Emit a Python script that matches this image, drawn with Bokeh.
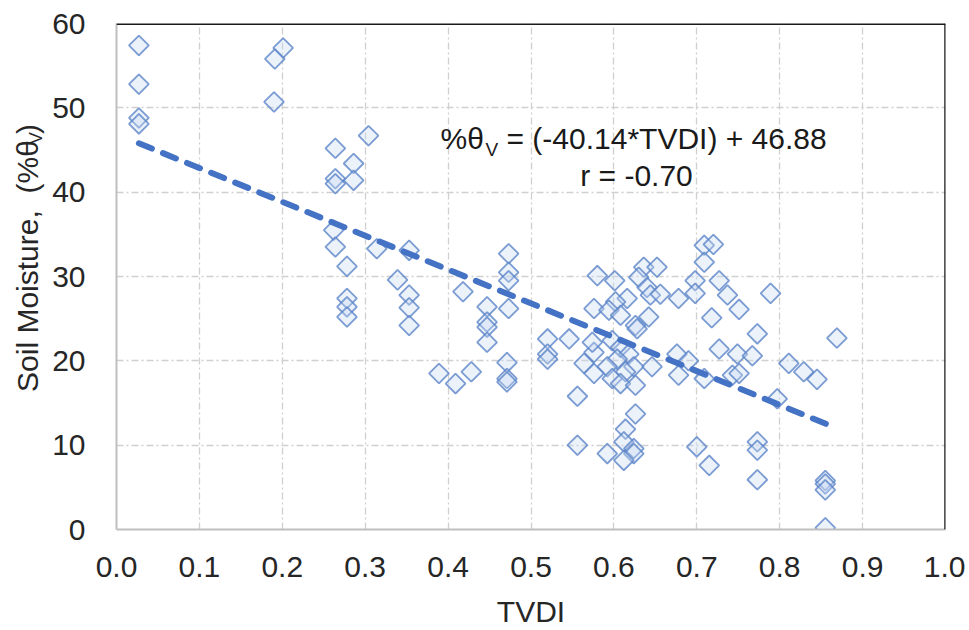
from bokeh.plotting import figure
from bokeh.models import Label, Span, Range1d, FixedTicker, ColumnDataSource
from bokeh.layouts import row
from bokeh.core.properties import value
from bokeh.embed import file_html
from bokeh.resources import INLINE
import numpy as np

# ---- data ----
tvdi = [0.027, 0.027, 0.027, 0.027, 0.201, 0.191, 0.190, 0.264, 0.304, 0.286,
        0.264, 0.264, 0.286, 0.262, 0.264, 0.314, 0.353, 0.278, 0.278, 0.278,
        0.278, 0.339, 0.353, 0.353, 0.353, 0.473, 0.473, 0.473, 0.473, 0.418,
        0.447, 0.447, 0.447, 0.447, 0.389, 0.409, 0.428, 0.471, 0.471, 0.471,
        0.520, 0.520, 0.520, 0.546, 0.556, 0.580, 0.601, 0.576, 0.564, 0.576,
        0.709, 0.720, 0.709, 0.636, 0.652, 0.630, 0.640, 0.644, 0.656, 0.616,
        0.602, 0.594, 0.608, 0.642, 0.626, 0.628, 0.678, 0.698, 0.698, 0.727,
        0.737, 0.751, 0.789, 0.718, 0.773, 0.869, 0.727, 0.749, 0.767, 0.811,
        0.829, 0.845, 0.676, 0.690, 0.678, 0.709, 0.743, 0.751, 0.797, 0.576,
        0.598, 0.608, 0.618, 0.604, 0.592, 0.624, 0.646, 0.614, 0.598, 0.608,
        0.626, 0.626, 0.614, 0.612, 0.556, 0.592, 0.624, 0.624, 0.612, 0.700,
        0.715, 0.773, 0.773, 0.773, 0.855, 0.855, 0.855, 0.855, 0.574]
moisture = [57.4, 52.8, 48.8, 48.1, 57.1, 55.8, 50.7, 45.2, 46.7, 43.4,
            41.6, 41.0, 41.4, 35.5, 33.5, 33.3, 33.1, 31.2, 27.4, 26.4,
            25.2, 29.6, 27.8, 26.3, 24.2, 32.7, 30.5, 29.5, 26.2, 28.2,
            26.4, 24.6, 24.0, 22.2, 18.5, 17.3, 18.7, 19.8, 17.9, 17.5,
            22.6, 20.8, 20.2, 22.6, 15.8, 30.1, 29.5, 26.2, 19.7, 18.5,
            33.7, 33.8, 31.7, 31.1, 31.1, 29.9, 28.7, 27.8, 27.9, 27.4,
            27.0, 26.0, 25.4, 25.2, 24.2, 23.8, 27.4, 29.5, 28.0, 29.5,
            27.8, 26.1, 28.0, 25.1, 23.2, 22.7, 21.4, 20.8, 20.6, 19.7,
            18.7, 17.8, 20.8, 20.0, 18.3, 17.9, 18.3, 18.5, 15.5, 21.0,
            22.4, 21.6, 20.8, 20.2, 19.3, 19.3, 19.3, 18.7, 17.9, 17.3,
            17.1, 13.7, 11.9, 10.4, 10.0, 9.0, 9.6, 9.0, 8.2, 9.8,
            7.6, 10.4, 9.4, 5.9, 5.8, 5.4, 4.7, 0.2, 22.2]

fit_slope = -40.14
fit_intercept = 46.88

x_ticks = [0.0, 0.1, 0.2, 0.3, 0.4, 0.5, 0.6, 0.7, 0.8, 0.9, 1.0]
x_tick_labels = ["0.0", "0.1", "0.2", "0.3", "0.4", "0.5", "0.6", "0.7", "0.8", "0.9", "1.0"]
y_ticks = [0, 10, 20, 30, 40, 50, 60]
y_tick_labels = ["0", "10", "20", "30", "40", "50", "60"]

x_title = "TVDI"
y_title_main = "Soil Moisture,\u00a0 (%\u03b8"
y_title_sub = "V"
y_title_end = ")"
eq_left = "%\u03b8"
eq_sub = "V"
eq_right = "= (-40.14*TVDI) + 46.88"
r_text = "r = -0.70"

FONT = "Liberation Sans"
TXT = "#262626"
H = 630
LEFT_W = 48
MAIN_W = 917

# frame geometry in page pixels (used to place texts)
FX0, FX1, FY0, FY1 = 116.0, 945.0, 529.0, 23.0


def dx(px):
    return (px - FX0) / (FX1 - FX0)


def dy(py):
    return (FY0 - py) / (FY0 - FY1) * 60.0


# ---- narrow panel holding the rotated y-axis title (with subscript) ----
left = figure(width=LEFT_W, height=H, x_range=Range1d(0, LEFT_W), y_range=Range1d(0, H),
              title=None, output_backend="svg", toolbar_location=None, min_border=0,
              x_axis_location=None, y_axis_location=None)
left.outline_line_color = None
left.grid.grid_line_color = None
left.background_fill_color = "white"
left.border_fill_color = "white"

# anchor positions (page px), tuned so the title runs from y=397 up to y=123
left.text(x=[27.0], y=[H - 302.0], text=[y_title_main], angle=np.pi / 2,
          text_align="center", text_baseline="middle", text_font=value(FONT),
          text_font_size="30px", text_color=TXT)
left.text(x=[35.5], y=[H - 143.0], text=[y_title_sub], angle=np.pi / 2,
          text_align="center", text_baseline="middle", text_font=value(FONT),
          text_font_size="18px", text_color=TXT)
left.text(x=[27.0], y=[H - 131.5], text=[y_title_end], angle=np.pi / 2,
          text_align="center", text_baseline="middle", text_font=value(FONT),
          text_font_size="30px", text_color=TXT)

# ---- main chart ----
p = figure(width=MAIN_W, height=H, x_range=Range1d(0, 1), y_range=Range1d(0, 60),
           title=None, output_backend="svg", toolbar_location=None,
           min_border_left=int(FX0) - LEFT_W, min_border_right=LEFT_W + MAIN_W - int(FX1),
           min_border_top=int(FY1), min_border_bottom=H - int(FY0))
p.outline_line_color = None
p.background_fill_color = "white"
p.border_fill_color = "white"

for ax in (p.xaxis, p.yaxis):
    ax.axis_line_color = "#bfbfbf"
    ax.axis_line_width = 2
    ax.major_tick_line_color = None
    ax.minor_tick_line_color = None
    ax.major_tick_out = 0
    ax.major_tick_in = 0
    ax.major_label_text_font = FONT
    ax.major_label_text_font_size = "30px"
    ax.major_label_text_color = TXT

p.xaxis.ticker = FixedTicker(ticks=x_ticks)
p.xaxis.major_label_overrides = {t: l for t, l in zip(x_ticks, x_tick_labels)}
p.yaxis.ticker = FixedTicker(ticks=y_ticks)
p.yaxis.major_label_overrides = {t: l for t, l in zip(y_ticks, y_tick_labels)}
p.xaxis.major_label_standoff = 27
p.yaxis.major_label_standoff = 31
p.xaxis.axis_label = x_title
p.xaxis.axis_label_standoff = 15
p.xaxis.axis_label_text_font = FONT
p.xaxis.axis_label_text_font_size = "30px"
p.xaxis.axis_label_text_font_style = "normal"
p.xaxis.axis_label_text_color = TXT

p.xgrid.ticker = FixedTicker(ticks=x_ticks[1:-1])
p.ygrid.ticker = FixedTicker(ticks=y_ticks[1:-1])
for g in (p.xgrid, p.ygrid):
    g.grid_line_color = "#d0d0d0"
    g.grid_line_width = 1.3
    g.grid_line_dash = "7 3 2 3"

# border on top and right
p.add_layout(Span(location=60, dimension="width", line_color="#1a1a1a", line_width=3))
p.add_layout(Span(location=1.0, dimension="height", line_color="#1a1a1a", line_width=2.5))

src = ColumnDataSource(dict(x=tvdi, y=moisture))
p.scatter("x", "y", source=src, marker="square", angle=np.pi / 4, size=14,
          fill_color="#c9daf2", fill_alpha=0.35, line_color="#5b84c8",
          line_alpha=0.8, line_width=1.8)

fx = [min(tvdi), max(tvdi)]
fy = [fit_slope * v + fit_intercept for v in fx]
p.line(fx, fy, line_color="#4472c4", line_width=6, line_dash="14 12", line_cap="round")

# regression annotation
eq_x0 = 440.0
p.add_layout(Label(x=dx(eq_x0), y=dy(138), text=eq_left, text_align="left", text_baseline="middle",
                   text_font=FONT, text_font_size="30px", text_color="#1a1a1a"))
p.add_layout(Label(x=dx(eq_x0 + 45), y=dy(149), text=eq_sub, text_align="left", text_baseline="middle",
                   text_font=FONT, text_font_size="19px", text_color="#1a1a1a"))
p.add_layout(Label(x=dx(eq_x0 + 66), y=dy(138), text=eq_right, text_align="left", text_baseline="middle",
                   text_font=FONT, text_font_size="30px", text_color="#1a1a1a"))
p.add_layout(Label(x=dx(636), y=dy(175), text=r_text, text_align="center", text_baseline="middle",
                   text_font=FONT, text_font_size="30px", text_color="#1a1a1a"))

layout = row(left, p, spacing=0)
open("out.html", "w").write(file_html(layout, INLINE))
